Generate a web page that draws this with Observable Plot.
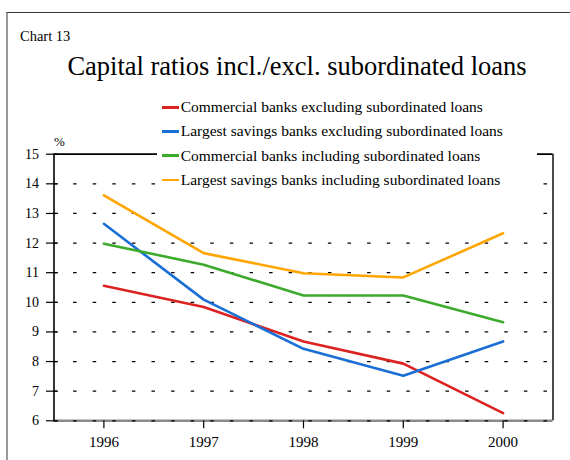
<!DOCTYPE html>
<html>
<head>
<meta charset="utf-8">
<script src="https://cdn.jsdelivr.net/npm/d3@7"></script>
<script src="https://cdn.jsdelivr.net/npm/@observablehq/plot@0.6"></script>
<style>
  html, body { margin: 0; padding: 0; background: #fff; overflow: hidden; }
  #wrap { position: relative; width: 570px; height: 460px; font-family: "Liberation Serif", "Times New Roman", serif; color: #000; overflow: hidden; }
  #frame { position: absolute; left: 6px; top: 12px; width: 700px; height: 600px; border-left: 2px solid #9a9a9a; border-top: 1.3px solid #333; box-sizing: border-box; }
  #chartno { position: absolute; left: 20px; top: 28.9px; font-size: 14.5px; line-height: 14.5px; white-space: nowrap; }
  #title { position: absolute; left: 0; width: 594px; top: 52.8px; font-size: 26.5px; line-height: 26.5px; text-align: center; white-space: nowrap; }
  #plot { position: absolute; left: 0; top: 130px; }
  #plot svg text { font-family: "Liberation Serif", "Times New Roman", serif; }
  #unit { position: absolute; left: 54px; top: 135.1px; font-size: 13px; line-height: 13px; }
  #legend { position: absolute; left: 157px; top: 93px; width: 380px; height: 122px; background: #fff; }
  .row { position: absolute; left: 0; height: 24.2px; display: flex; align-items: center; white-space: nowrap; }
  .sw { width: 17px; height: 2.6px; margin-left: 5.3px; margin-right: 1.4px; }
  .lab { font-size: 15.5px; line-height: 24.2px; }
</style>
</head>
<body>
<div id="wrap">
  <div id="frame"></div>
  <div id="chartno">Chart 13</div>
  <div id="title">Capital ratios incl./excl. subordinated loans</div>
  <div id="plot"></div>
  <div id="unit">%</div>
  <div id="legend"></div>
</div>
<script>
// ---- data ----
const years = [1996, 1997, 1998, 1999, 2000];
const commercialExcl = [10.56, 9.84, 8.68, 7.93, 6.26];
const savingsExcl    = [12.65, 10.09, 8.43, 7.52, 8.68];
const commercialIncl = [11.98, 11.27, 10.23, 10.23, 9.33];
const savingsIncl    = [13.61, 11.66, 10.98, 10.84, 12.33];
const seriesNames = [
  "Commercial banks excluding subordinated loans",
  "Largest savings banks excluding subordinated loans",
  "Commercial banks including subordinated loans",
  "Largest savings banks including subordinated loans"
];
const seriesColors = ["#dd2222", "#1a6fd6", "#3caa2c", "#ffa500"];
const yTicks = [6, 7, 8, 9, 10, 11, 12, 13, 14, 15];
const gridTicks = [6, 7, 8, 9, 10, 11, 12, 13, 14];
const xDomain = [1995.5, 2000.5];
const yDomain = [6, 15];

// ---- tidy table ----
const seriesValues = [commercialExcl, savingsExcl, commercialIncl, savingsIncl];
const rows = [];
seriesValues.forEach((vals, i) => {
  vals.forEach((v, j) => rows.push({series: seriesNames[i], year: years[j], value: v}));
});

const chart = Plot.plot({
  width: 570,
  height: 330,
  marginLeft: 53.5,
  marginRight: 17.5,
  marginTop: 23.7,
  marginBottom: 39.7,
  style: {fontFamily: "'Liberation Serif', 'Times New Roman', serif", background: "transparent", color: "#000", fontSize: "14px"},
  x: {domain: xDomain, label: null},
  y: {domain: yDomain, label: null},
  color: {domain: seriesNames, range: seriesColors},
  marks: [
    Plot.ruleY([yDomain[0]], {stroke: "#8a8a8a", strokeWidth: 2.6}),
    Plot.gridY(gridTicks, {stroke: "#000", strokeOpacity: 1, strokeWidth: 1.2, strokeDasharray: "3.5 16.1"}),
    Plot.ruleY([yDomain[1]], {stroke: "#000", strokeWidth: 1.8}),
    Plot.ruleX([xDomain[0]], {stroke: "#000", strokeWidth: 1.6}),
    Plot.ruleX([xDomain[1]], {stroke: "#000", strokeWidth: 1.4}),
    Plot.axisY(yTicks, {tickSize: 12, dx: 4.5, tickPadding: 7.5, fontSize: 14, stroke: "#000", strokeWidth: 1.2}),
    Plot.axisX(years, {tickSize: 8, tickPadding: 8, tickFormat: "d", fontSize: 15, stroke: "#000", strokeWidth: 1.2}),
    Plot.line(rows, {x: "year", y: "value", z: "series", stroke: "series", strokeWidth: 2.6, strokeLinejoin: "miter"})
  ]
});
document.getElementById("plot").appendChild(chart);

// ---- legend ----
const legend = document.getElementById("legend");
seriesNames.forEach((name, i) => {
  const r = document.createElement("div");
  r.className = "row";
  r.style.top = (2.2 + i * 24.23) + "px";
  const sw = document.createElement("div");
  sw.className = "sw";
  sw.style.background = seriesColors[i];
  const lab = document.createElement("span");
  lab.className = "lab";
  lab.textContent = name;
  r.appendChild(sw);
  r.appendChild(lab);
  legend.appendChild(r);
});
</script>
</body>
</html>
